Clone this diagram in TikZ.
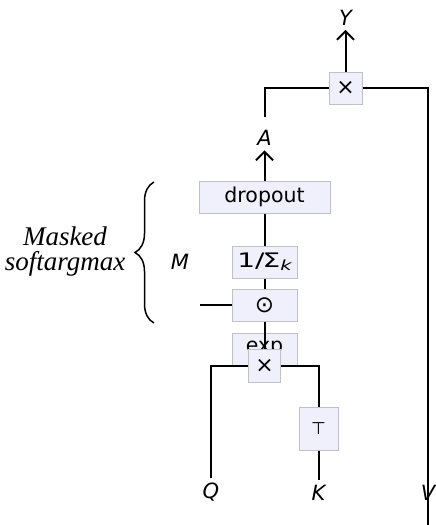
\documentclass[tikz,border=0pt]{standalone}
\usepackage{fontspec}
\setmainfont{Liberation Serif}
\newfontfamily\dv{DejaVu Sans}
\newfontfamily\dvw[FakeStretch=1.4]{DejaVu Sans}
\usetikzlibrary{arrows.meta,decorations.pathreplacing}
\definecolor{bfill}{RGB}{240,240,252}
\definecolor{bdraw}{RGB}{192,192,198}
\begin{document}
\begin{tikzpicture}[x=1pt,y=-1pt,
  opbox/.style={draw=bdraw,fill=bfill,line width=1pt,inner sep=0pt,font=\dv\fontsize{20.5}{20.5}\selectfont},
  wire/.style={line width=2pt},
  lbl/.style={font=\dv\itshape\fontsize{21}{21}\selectfont,inner sep=0pt},
  arr/.style={wire,-{Straight Barb[length=8.5pt,width=17pt,line width=2pt]}}
]
\useasboundingbox (0,0) rectangle (436,525);
% boxes
\node[opbox,minimum width=131pt,minimum height=32pt] (drop) at (264.5,197) {dropout};
\node[opbox,minimum width=65pt,minimum height=32pt,font=\dvw\fontsize{20}{20}\selectfont] (norm) at (264.5,262) {1/\kern-2ptΣ\raisebox{-3pt}{\fontsize{14}{14}\selectfont\itshape k}};
\node[opbox,minimum width=65pt,minimum height=32pt,font=\dv\fontsize{23}{23}\selectfont] (odot) at (264.5,305) {⊙};
\node[opbox,minimum width=65pt,minimum height=32pt] (exp) at (264.5,349) {exp};
\node[opbox,minimum width=32pt,minimum height=33pt,font=\dv\fontsize{22}{22}\selectfont] (mul) at (264.5,366) {×};
\node[opbox,minimum width=39pt,minimum height=43pt,font=\dv\fontsize{17}{17}\selectfont] (tr) at (318.5,428.5) {⊤};
\node[opbox,minimum width=33pt,minimum height=32pt,font=\dv\fontsize{22}{22}\selectfont] (mulo) at (345.5,88) {×};
% labels
\node[lbl] (Y) at (345.5,17.5) {Y};
\node[lbl] (A) at (264.5,138) {A};
\node[lbl] (M) at (180,262) {M};
\node[lbl] (Q) at (211,492) {Q};
\node[lbl] (K) at (318.5,493) {K};
\node[lbl] (V) at (428,493) {V};
\node[font=\itshape\fontsize{27}{25}\selectfont,align=center,inner sep=0pt] (title) at (65,252) {Masked\\softargmax};
% coordinates
\coordinate (atop) at (264.5,117);
\coordinate (vbot) at (428,525);
\coordinate (mk) at (200,305);
\coordinate (qend) at (211,478);
\coordinate (kend) at (318.5,480);
% wires
\draw[arr] (mulo.north) -- ([yshift=-4.5pt]Y.south);
\draw[wire] (atop) |- (mulo.west);
\draw[wire] (mulo.east) -| (vbot);
\draw[arr] (drop.north) -- ([yshift=-4.5pt]A.south);
\draw[wire] (drop.south) -- (norm.north);
\draw[wire] (norm.south) -- (odot.north);
\draw[wire] (mk) -- (odot.west);
\draw[wire] (odot.south) -- (mul.north);
\draw[wire] (mul.west) -| (qend);
\draw[wire] (mul.east) -| (tr.north);
\draw[wire] (tr.south) -- (kend);
% brace
\draw[line width=1.5pt,decorate,decoration={brace,amplitude=19pt}] (154,323) -- (154,182);
\end{tikzpicture}
\end{document}
